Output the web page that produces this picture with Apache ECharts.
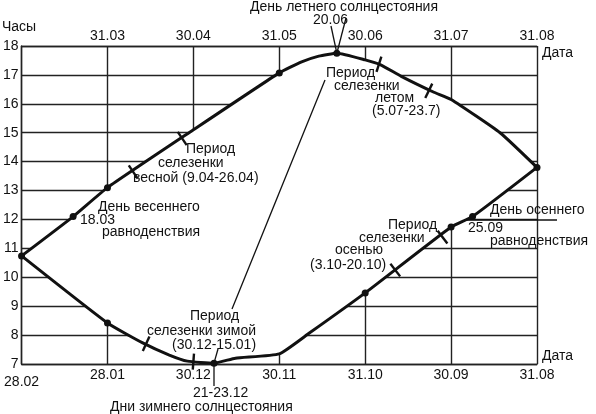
<!DOCTYPE html>
<html><head><meta charset="utf-8">
<script src="https://cdn.jsdelivr.net/npm/echarts@6/dist/echarts.min.js"></script>
<style>html,body{margin:0;padding:0;background:#fff;}#c{width:596px;height:414px;}</style>
</head><body><div id="c"></div>
<script>
// Date tick labels (x = month position, 0..6)
const topDateLabels = ['', '31.03', '30.04', '31.05', '30.06', '31.07', '31.08'];
const bottomDateLabels = ['28.02', '28.01', '30.12', '30.11', '31.10', '30.09', '31.08'];
const hourMin = 7, hourMax = 18;

// Upper half of the loop: 28.02 -> 31.08 (top date scale)
const upperX = [0, 0.6, 1, 2, 3, 3.26, 3.46, 3.67, 4, 4.18, 4.42, 4.8, 5, 5.57, 6];
const upperY = [10.74, 12.1, 13.1, 15.1, 17.07, 17.45, 17.65, 17.75, 17.52, 17.35, 16.95, 16.4, 16.15, 15.0, 13.8];
const upperDots = [0, 1, 2, 4, 7, 14];

// Lower half of the loop: 31.08 -> 28.02 (bottom date scale)
const lowerX = [6, 5.25, 5, 4, 3.35, 3, 2.49, 2.24, 1.93, 1.72, 1.41, 1, 0];
const lowerY = [13.8, 12.1, 11.74, 9.46, 8.07, 7.35, 7.2, 7.03, 7.1, 7.31, 7.73, 8.42, 10.74];
const lowerDots = [1, 2, 3, 7, 11];

// Period marks (spleen periods): position and day length, which half
const periodX = [1.3, 1.87, 4.16, 4.74, 4.9, 4.35, 2.0, 1.45];
const periodY = [13.64, 14.8, 17.37, 16.45, 11.39, 10.25, 7.08, 7.7];
const periodHalf = ['u', 'u', 'u', 'u', 'l', 'l', 'l', 'l'];

const FONT = '"Liberation Sans", Arial, sans-serif';
const INK = '#111';
const GRID = '#222';

const chart = echarts.init(document.getElementById('c'), null, {renderer: 'canvas'});

function segDir(api, xs, ys, x) {
  let k = 0;
  for (let i = 0; i < xs.length - 1; i++) {
    const a = Math.min(xs[i], xs[i + 1]), b = Math.max(xs[i], xs[i + 1]);
    if (x >= a && x <= b) { k = i; break; }
  }
  const p1 = api.coord([xs[k], ys[k]]), p2 = api.coord([xs[k + 1], ys[k + 1]]);
  let dx = p2[0] - p1[0], dy = p2[1] - p1[1];
  const L = Math.hypot(dx, dy) || 1;
  return [dx / L, dy / L];
}

const option = {
  animation: false,
  backgroundColor: '#fff',
  grid: {left: 18, right: 59, top: 46, bottom: 50, containLabel: false},
  xAxis: [
    {
      type: 'value', position: 'top', min: 0, max: 6, interval: 1,
      axisLine: {show: true, lineStyle: {color: GRID, width: 1.4}},
      axisTick: {show: false},
      splitLine: {show: true, lineStyle: {color: GRID, width: 1.4}},
      axisLabel: {formatter: v => topDateLabels[v], margin: 3, fontSize: 14, color: INK, fontFamily: FONT}
    },
    {
      type: 'value', position: 'bottom', min: 0, max: 6, interval: 1,
      axisLine: {show: true, lineStyle: {color: GRID, width: 1.4}},
      axisTick: {show: false},
      splitLine: {show: false},
      axisLabel: {
        formatter: v => v === 0 ? '{a|' + bottomDateLabels[v] + '}' : bottomDateLabels[v],
        margin: 4, fontSize: 14, color: INK, fontFamily: FONT,
        rich: {a: {fontSize: 14, color: INK, fontFamily: FONT, padding: [7, 0, 0, 0]}}
      }
    }
  ],
  yAxis: {
    type: 'value', min: hourMin, max: hourMax, interval: 1,
    axisLine: {show: true, lineStyle: {color: GRID, width: 1.4}},
    axisTick: {show: false},
    splitLine: {show: true, lineStyle: {color: GRID, width: 1.4}},
    axisLabel: {margin: 3, fontSize: 14, color: INK, fontFamily: FONT}
  },
  series: [
    {
      // blank interior of the loop (hides the grid inside it)
      type: 'custom', xAxisIndex: 0, yAxisIndex: 0, z: 3, silent: true, clip: false,
      data: [[upperX[0], upperY[0]]],
      renderItem: function (params, api) {
        const pts = [];
        upperX.forEach((x, i) => pts.push(api.coord([x, upperY[i]])));
        lowerX.forEach((x, i) => pts.push(api.coord([x, lowerY[i]])));
        return {type: 'polygon', shape: {points: pts, smooth: 0.15}, style: {fill: '#fff', stroke: null}};
      }
    },
    {
      type: 'line', xAxisIndex: 0, yAxisIndex: 0, z: 5,
      data: upperX.map((x, i) => [x, upperY[i]]),
      lineStyle: {color: INK, width: 3},
      symbol: 'circle',
      symbolSize: (v, p) => upperDots.includes(p.dataIndex) ? 7 : 0,
      itemStyle: {color: INK}, showSymbol: true, smooth: 0.15
    },
    {
      type: 'line', xAxisIndex: 0, yAxisIndex: 0, z: 5,
      data: lowerX.map((x, i) => [x, lowerY[i]]),
      lineStyle: {color: INK, width: 3},
      symbol: 'circle',
      symbolSize: (v, p) => lowerDots.includes(p.dataIndex) ? 7 : 0,
      itemStyle: {color: INK}, showSymbol: true, smooth: 0.15
    },
    {
      type: 'custom', xAxisIndex: 0, yAxisIndex: 0, z: 6, silent: true, clip: false,
      data: periodX.map((x, i) => [x, periodY[i]]),
      renderItem: function (params, api) {
        const i = params.dataIndex;
        const p = api.coord([periodX[i], periodY[i]]);
        const d = periodHalf[i] === 'u' ? segDir(api, upperX, upperY, periodX[i]) : segDir(api, lowerX, lowerY, periodX[i]);
        const n = [-d[1], d[0]], h = 8;
        return {type: 'line', shape: {x1: p[0] - n[0] * h, y1: p[1] - n[1] * h, x2: p[0] + n[0] * h, y2: p[1] + n[1] * h},
          style: {stroke: INK, lineWidth: 2.4}};
      }
    }
  ]
};
chart.setOption(option);

function t(text, x, y, extra) {
  return Object.assign({type: 'text', x: x, y: y, z: 10,
    style: {text: text, fill: INK, font: '14px ' + FONT, textVerticalAlign: 'middle', textAlign: 'left'}}, extra || {});
}
function ln(a, b, w) {
  return {type: 'line', z: 9, shape: {x1: a[0], y1: a[1], x2: b[0], y2: b[1]}, style: {stroke: INK, lineWidth: w || 1.3}};
}
const toPx = (x, y) => chart.convertToPixel({xAxisIndex: 0, yAxisIndex: 0}, [x, y]);
const peak = toPx(upperX[7], upperY[7]);
const solst = toPx(lowerX[7], lowerY[7]);

chart.setOption({
  graphic: [
    t('Часы', 2, 27),
    t('Дата', 542, 53),
    t('Дата', 542, 356),
    t('День летнего солнцестояния', 250, 7),
    t('20.06', 313, 20),
    ln([331, 26], peak), ln([346, 18], peak),
    t('Период', 326, 73), t('селезенки', 334, 86), t('летом', 375, 98), t('(5.07-23.7)', 372, 111),
    ln([325, 80], [232, 309]),
    t('Период', 186, 149), t('селезенки', 158, 163), t('весной (9.04-26.04)', 133, 178),
    t('День весеннего', 98, 207), t('18.03', 80, 220), t('равноденствия', 102, 232),
    t('Период', 388, 225), t('селезенки', 359, 238), t('осенью', 335, 250), t('(3.10-20.10)', 310, 265),
    t('День осеннего', 490, 210), t('25.09', 468, 228), t('равноденствия', 490, 241),
    ln([467, 220], [557, 220]),
    t('Период', 190, 316), t('селезенки зимой', 147, 331), t('(30.12-15.01)', 172, 345),
    ln([218, 349], solst), ln(solst, [solst[0], 386]),
    t('21-23.12', 193, 393), t('Дни зимнего солнцестояния', 110, 407)
  ]
});
</script></body></html>
